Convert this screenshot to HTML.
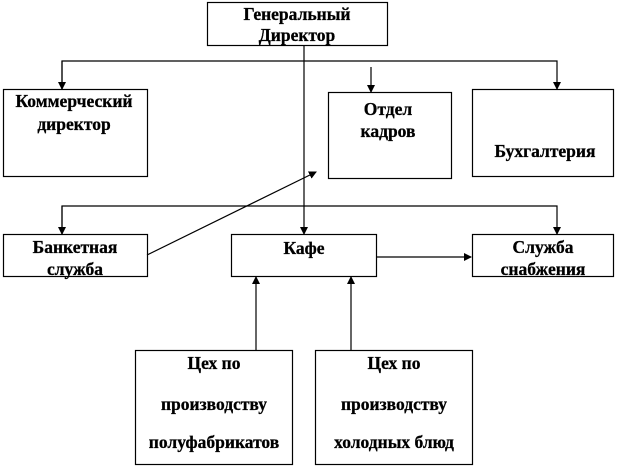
<!DOCTYPE html>
<html><head><meta charset="utf-8"><style>
html,body{margin:0;padding:0;background:#fff}
svg{display:block}
text{font-family:"Liberation Serif","Times New Roman","DejaVu Serif",serif;font-weight:bold;font-size:17.5px;fill:#000;stroke:#000;stroke-width:0.3;text-anchor:middle}
</style></head><body>
<svg width="618" height="469" viewBox="0 0 618 469" xmlns="http://www.w3.org/2000/svg">
<defs><marker id="a" markerWidth="8" markerHeight="8" refX="7" refY="4" orient="auto" markerUnits="userSpaceOnUse"><path d="M0,0 L8,4 L0,8 z" fill="#000"/></marker></defs>
<g fill="#fff" stroke="#000" stroke-width="1.2">
<rect x="207.5" y="2.5" width="180" height="43"/>
<rect x="3.5" y="89.5" width="144" height="87"/>
<rect x="328.5" y="92.5" width="123" height="86"/>
<rect x="472.5" y="89.5" width="141" height="87"/>
<rect x="3.5" y="234.5" width="144" height="42"/>
<rect x="231.5" y="234.5" width="145" height="42"/>
<rect x="472.5" y="234.5" width="141" height="42"/>
<rect x="135.5" y="350.5" width="157" height="114"/>
<rect x="315.5" y="350.5" width="157" height="114"/>
</g>
<g stroke="#000" stroke-width="1.2" fill="none">
<line x1="304" y1="45" x2="304" y2="234" marker-end="url(#a)"/>
<polyline points="62,89 62,61 557,61 557,89" marker-end="url(#a)"/>
<line x1="62" y1="61" x2="62" y2="89" marker-end="url(#a)"/>
<line x1="371" y1="67" x2="371" y2="92" marker-end="url(#a)"/>
<polyline points="62,234 62,206 557,206 557,234" marker-end="url(#a)"/>
<line x1="62" y1="206" x2="62" y2="234" marker-end="url(#a)"/>
<line x1="147" y1="255" x2="316" y2="172" marker-end="url(#a)"/>
<line x1="376" y1="257" x2="471" y2="257" marker-end="url(#a)"/>
<line x1="256" y1="350" x2="256" y2="277" marker-end="url(#a)"/>
<line x1="351" y1="350" x2="351" y2="277" marker-end="url(#a)"/>
</g>
<text x="297" y="20">Генеральный</text>
<text x="297" y="41">Директор</text>
<text x="74" y="107">Коммерческий</text>
<text x="74" y="130">директор</text>
<text x="388" y="115">Отдел</text>
<text x="388" y="137">кадров</text>
<text x="545" y="157">Бухгалтерия</text>
<text x="75" y="253">Банкетная</text>
<text x="75" y="275">служба</text>
<text x="304" y="254">Кафе</text>
<text x="543" y="253">Служба</text>
<text x="543" y="275">снабжения</text>
<text x="214" y="369">Цех по</text>
<text x="214" y="410">производству</text>
<text x="214" y="448">полуфабрикатов</text>
<text x="394" y="369">Цех по</text>
<text x="394" y="410">производству</text>
<text x="394" y="448">холодных блюд</text>
</svg>
</body></html>
